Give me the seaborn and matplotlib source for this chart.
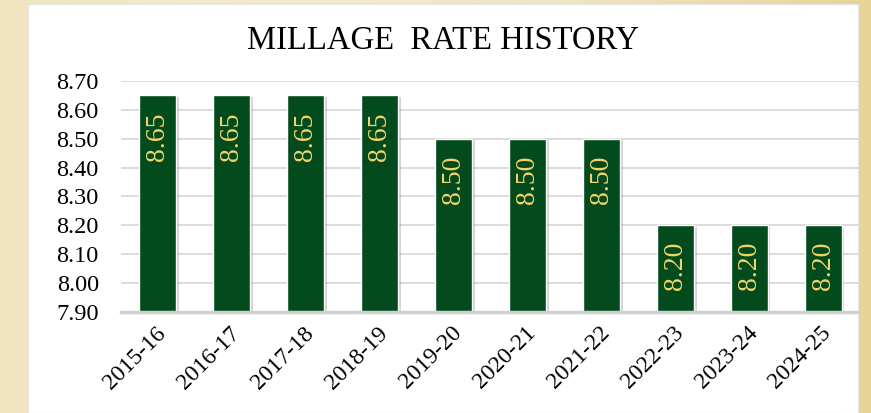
import numpy as np
import pandas as pd
import matplotlib
matplotlib.use("Agg")
import matplotlib.pyplot as plt
import matplotlib.patheffects as pe
import matplotlib.transforms as mtransforms
from matplotlib.patches import Rectangle
import seaborn as sns

# dados do gráfico
years = ["2015-16", "2016-17", "2017-18", "2018-19", "2019-20",
         "2020-21", "2021-22", "2022-23", "2023-24", "2024-25"]
rates = [8.65, 8.65, 8.65, 8.65, 8.50, 8.50, 8.50, 8.20, 8.20, 8.20]
y_ticks = [7.90, 8.00, 8.10, 8.20, 8.30, 8.40, 8.50, 8.60, 8.70]

df = pd.DataFrame({"year": years, "rate": rates})

sns.set_style("white")
plt.rcParams["font.family"] = ["Liberation Serif", "DejaVu Serif"]

W, H = 871, 413
fig = plt.figure(figsize=(W / 100, H / 100), dpi=100)

# fundo bege com gradiente
bg = fig.add_axes([0, 0, 1, 1], zorder=-10)
gx = np.linspace(0, 1, 256)
grad = np.tile(gx, (32, 1))
cmap = matplotlib.colors.LinearSegmentedColormap.from_list(
    "bege", ["#f1e4c0", "#f3e9cc", "#efe3c2", "#e8d499"])
bg.imshow(grad, aspect="auto", cmap=cmap, extent=[0, 1, 0, 1])
bg.set_axis_off()

# painel branco
fig.patches.append(Rectangle((28 / W, 0), (858 - 28) / W, (H - 4) / H,
                             transform=fig.transFigure, facecolor="white",
                             edgecolor="#e6e6e6", linewidth=0.8, zorder=-5))

ax = fig.add_axes([121 / W, 1 - 312 / H, (860 - 121) / W, (312 - 81) / H])
ax.set_facecolor("none")

sns.barplot(data=df, x="year", y="rate", color="#034b1c", width=0.5,
            saturation=1, ax=ax, zorder=3)

for p in ax.patches:
    p.set_path_effects([pe.SimplePatchShadow(offset=(2, -1), alpha=0.25,
                                             shadow_rgbFace="#555555"),
                        pe.Normal()])

ax.set_ylim(7.90, 8.70)
ax.set_yticks(y_ticks)
ax.set_yticklabels([f"{v:.2f}" for v in y_ticks], fontsize=17.5, color="black")
ax.set_xlim(-0.5, len(years) - 0.5)
ax.set_xlabel("")
ax.set_ylabel("")
ax.tick_params(axis="y", length=0, pad=16)
ax.tick_params(axis="x", length=0, pad=13)
shift = mtransforms.ScaledTranslation(5 / 100, 0, fig.dpi_scale_trans)
for lbl in ax.get_xticklabels():
    lbl.set_rotation(45)
    lbl.set_ha("right")
    lbl.set_va("center")
    lbl.set_rotation_mode("anchor")
    lbl.set_fontsize(17)
    lbl.set_color("black")
    lbl.set_transform(lbl.get_transform() + shift)

ax.grid(axis="y", color="#d9d9d9", linewidth=1.3, zorder=0)
ax.set_axisbelow(True)
for s in ["top", "right", "left"]:
    ax.spines[s].set_visible(False)
ax.spines["bottom"].set_color("#d0d0d0")
ax.spines["bottom"].set_linewidth(2.5)
ax.spines["bottom"].set_zorder(4)

# rótulos dentro das barras
for i, v in enumerate(rates):
    ax.annotate(f"{v:.2f}", (i, v), xytext=(0, -12), textcoords="offset points",
                rotation=90, ha="center", va="top", fontsize=20,
                color="#f3d46a", zorder=5)

fig.text(443 / W, 1 - 41 / H, "MILLAGE  RATE HISTORY", ha="center",
         va="center", fontsize=23.5, color="black")

fig.savefig("out.png", dpi=100)
